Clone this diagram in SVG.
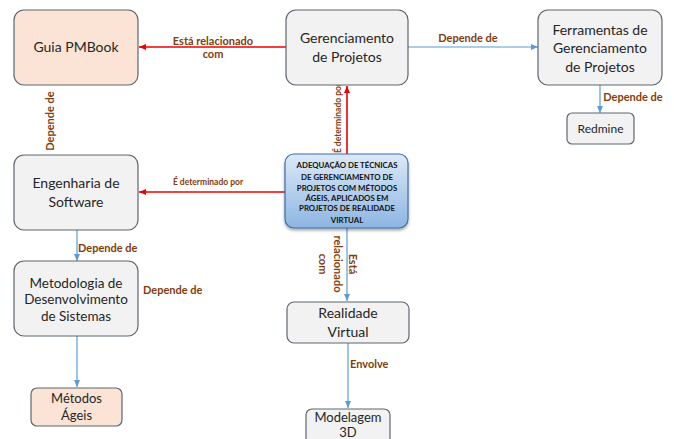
<svg xmlns="http://www.w3.org/2000/svg" width="674" height="439" viewBox="0 0 674 439">
<defs>
<style>
.node{fill:#f2f2f2;stroke:#5d6670;stroke-width:1.2}
.peach{fill:#fbe4d5}
.nt{font-family:Lato,"Open Sans","Liberation Sans",sans-serif;font-size:14px;fill:#262626;text-anchor:middle}
.lbl{font-family:Lato,"Open Sans","Liberation Sans",sans-serif;font-size:11px;font-weight:bold;fill:#843c0c}
.small{font-size:8.5px}
.red{stroke:#f00000;stroke-width:1.6;fill:none}
.blue{stroke:#5b9bd5;stroke-width:1.2;fill:none}
.ct{font-family:Lato,"Open Sans","Liberation Sans",sans-serif;font-size:7.8px;font-weight:bold;fill:#111;text-anchor:middle}
</style>
<marker id="ar" markerWidth="8" markerHeight="8" refX="7" refY="4" orient="auto" markerUnits="userSpaceOnUse"><path d="M0,1 L7,4 L0,7 Z" fill="#f00000"/></marker>
<marker id="ab" markerWidth="8" markerHeight="8" refX="7" refY="4" orient="auto" markerUnits="userSpaceOnUse"><path d="M0,1 L7,4 L0,7 Z" fill="#5b9bd5"/></marker>
<linearGradient id="gb" x1="0" y1="0" x2="0" y2="1"><stop offset="0" stop-color="#dce9f7"/><stop offset="1" stop-color="#8db5e2"/></linearGradient>
<filter id="sh" x="-10%" y="-10%" width="130%" height="140%"><feDropShadow dx="0" dy="2" stdDeviation="1.5" flood-color="#000" flood-opacity="0.35"/></filter>
</defs>
<rect width="674" height="439" fill="#fff"/>
<g id="connectors">
<line class="red" x1="286" y1="47" x2="139" y2="47" marker-end="url(#ar)"/>
<line class="blue" x1="408" y1="47" x2="538" y2="47" marker-end="url(#ab)"/>
<line class="blue" x1="600" y1="85" x2="600" y2="113" marker-end="url(#ab)"/>
<line class="red" x1="347" y1="154" x2="347" y2="86" marker-end="url(#ar)"/>
<line class="red" x1="285" y1="192" x2="139" y2="192" marker-end="url(#ar)"/>
<line class="blue" x1="347" y1="228" x2="347" y2="301" marker-end="url(#ab)"/>
<line class="blue" x1="77" y1="230" x2="77" y2="261" marker-end="url(#ab)"/>
<line class="blue" x1="77" y1="336" x2="77" y2="387" marker-end="url(#ab)"/>
<line class="blue" x1="348" y1="343" x2="348" y2="408" marker-end="url(#ab)"/>
<text class="lbl" x="213" y="45" text-anchor="middle">Está relacionado</text>
<text class="lbl" x="213" y="58" text-anchor="middle">com</text>
<text class="lbl" x="468" y="42" text-anchor="middle">Depende de</text>
<text class="lbl" x="633" y="101" text-anchor="middle">Depende de</text>
<text class="lbl small" x="208" y="185" text-anchor="middle">É determinado por</text>
<text class="lbl small" transform="translate(341,118) rotate(-90)" text-anchor="middle">É determinado por</text>
<text class="lbl" transform="translate(54,121) rotate(-90)" text-anchor="middle">Depende de</text>
<text class="lbl" x="78" y="252">Depende de</text>
<text class="lbl" x="143" y="294">Depende de</text>
<text class="lbl" x="350" y="368">Envolve</text>
<g transform="translate(0,264) rotate(90)">
<text class="lbl" x="0" y="-349" text-anchor="middle">Está</text>
<text class="lbl" x="0" y="-334" text-anchor="middle">relacionado</text>
<text class="lbl" x="0" y="-319" text-anchor="middle">com</text>
</g>
</g>
<g id="guia"><rect class="node peach" x="14" y="10" width="124" height="75" rx="10"/><text class="nt" x="76" y="52">Guia PMBook</text></g>
<g id="gerenciamento"><rect class="node" x="286" y="10" width="122" height="75" rx="10"/><text class="nt" x="347" y="43">Gerenciamento</text><text class="nt" x="347" y="62">de Projetos</text></g>
<g id="ferramentas"><rect class="node" x="538" y="10" width="124" height="75" rx="10"/><text class="nt" x="600" y="35">Ferramentas de</text><text class="nt" x="600" y="53">Gerenciamento</text><text class="nt" x="600" y="72">de Projetos</text></g>
<g id="redmine"><rect class="node" x="567" y="113" width="67" height="31" rx="5"/><text class="nt" x="600.5" y="133" style="font-size:12px">Redmine</text></g>
<g id="engenharia"><rect class="node" x="14" y="155" width="124" height="75" rx="10"/><text class="nt" x="76" y="188">Engenharia de</text><text class="nt" x="76" y="207">Software</text></g>
<g id="central"><rect x="285" y="154" width="123" height="74" rx="9" fill="url(#gb)" stroke="#3f6fa8" stroke-width="1.2" filter="url(#sh)"/>
<text class="ct" x="347" y="168">ADEQUAÇÃO DE TÉCNICAS</text>
<text class="ct" x="347" y="180">DE GERENCIAMENTO DE</text>
<text class="ct" x="347" y="191">PROJETOS COM MÉTODOS</text>
<text class="ct" x="347" y="201">ÁGEIS, APLICADOS EM</text>
<text class="ct" x="347" y="211">PROJETOS DE REALIDADE</text>
<text class="ct" x="347" y="223">VIRTUAL</text></g>
<g id="metodologia"><rect class="node" x="14" y="261" width="124" height="75" rx="10"/><text class="nt" x="76" y="288" style="font-size:13.5px">Metodologia de</text><text class="nt" x="76" y="304" style="font-size:13.5px">Desenvolvimento</text><text class="nt" x="76" y="321" style="font-size:13.5px">de Sistemas</text></g>
<g id="realidade"><rect class="node" x="287" y="302" width="122" height="41" rx="7"/><text class="nt" x="348" y="318">Realidade</text><text class="nt" x="348" y="337">Virtual</text></g>
<g id="metodos"><rect class="node peach" x="31" y="388" width="91" height="38" rx="6"/><text class="nt" x="76.5" y="403" style="font-size:13px">Métodos</text><text class="nt" x="76.5" y="420" style="font-size:13px">Ágeis</text></g>
<g id="modelagem"><rect class="node" x="306" y="409" width="84" height="40" rx="6"/><text class="nt" x="348" y="422" style="font-size:13px">Modelagem</text><text class="nt" x="348" y="437" style="font-size:13px">3D</text></g>
</svg>
